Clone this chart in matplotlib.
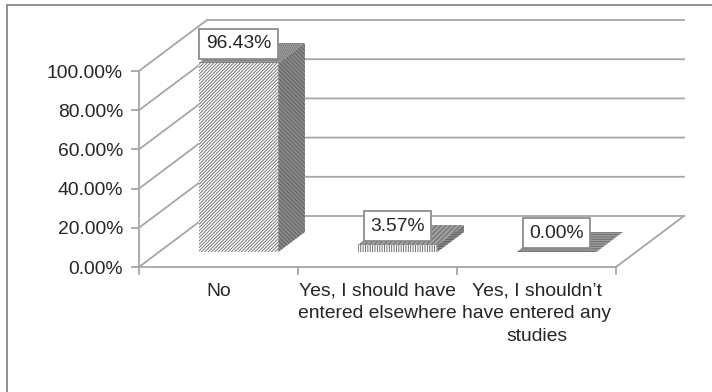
import matplotlib
matplotlib.use('Agg')
import matplotlib.pyplot as plt
from matplotlib.lines import Line2D
from matplotlib.patches import Polygon

categories = ["No", "Yes, I should have\nentered elsewhere", "Yes, I shouldn\u2019t\nhave entered any\nstudies"]
values = [96.43, 3.57, 0.00]
labels = ["96.43%", "3.57%", "0.00%"]
ytick_values = [0, 20, 40, 60, 80, 100]
ytick_labels = ["0.00%", "20.00%", "40.00%", "60.00%", "80.00%", "100.00%"]

W, H = 712, 392
plt.rcParams['font.family'] = ['Liberation Sans', 'DejaVu Sans']
plt.rcParams['hatch.linewidth'] = 0.7
GRID = '#a6a6a6'
TXT = '#262626'
FS = 13.9

fig = plt.figure(figsize=(W / 100, H / 100), dpi=100, facecolor='white')
# only the top and left edges of the chart frame are visible
fig.add_artist(Line2D([6.5 / W, 6.5 / W, 1], [0, 1 - 4.5 / H, 1 - 4.5 / H], transform=fig.transFigure,
                      color='#8f8f8f', lw=1.4, solid_joinstyle='miter'))

# front plane of the 3-D box
L, R, B, T = 139, 616, 267, 71
ax = fig.add_axes([L / W, 1 - B / H, (R - L) / W, (B - T) / H])
ax.set_xlim(0, 3)
ax.set_ylim(0, 100)
ax.patch.set_alpha(0)
for s in ('top', 'right'):
    ax.spines[s].set_visible(False)
for s in ('left', 'bottom'):
    ax.spines[s].set_color(GRID)
    ax.spines[s].set_linewidth(1.3)

DX = 68 / ((R - L) / 3)      # depth shift, x units
DY = 51 / ((B - T) / 100)    # depth shift, y units


def P(x, y, d):
    return (x + d * DX, y + d * DY)


ax.set_xticks(range(4))
ax.set_xticklabels([])
ax.set_yticks(ytick_values)
ax.set_yticklabels(ytick_labels, fontsize=FS, color=TXT)
ax.tick_params(axis='both', color=GRID, width=1.3, length=6)
ax.tick_params(axis='y', pad=5.5)

for i, c in enumerate(categories):
    ax.annotate(c, (i + 0.5, 0), xytext=(0, -16), textcoords='offset pixels',
                ha='center', va='top', fontsize=FS, color=TXT, linespacing=1.42,
                annotation_clip=False)

# walls and floor
for v in ytick_values:
    a, b, c = P(0, v, 0), P(0, v, 1), P(3, v, 1)
    ax.plot([a[0], b[0], c[0]], [a[1], b[1], c[1]], color=GRID, lw=1.3, clip_on=False, zorder=1,
            solid_joinstyle='miter')
a, b = P(3, 0, 0), P(3, 0, 1)
ax.plot([a[0], b[0]], [a[1], b[1]], color=GRID, lw=1.3, clip_on=False, zorder=1)

d0, d1 = 15 / 51, 35 / 51
hatches = [('//////////', '\\\\\\\\\\\\\\\\', '........'),
           ('|||||||', '-------', '///////'),
           ('-------', '-------', '-------')]
front_col = ['#777777', '#6e6e6e', '#6e6e6e']
for i, v in enumerate(values):
    x0, x1 = i + 0.25, i + 0.75
    hf, hs, ht = hatches[i]
    side = [P(x1, 0, d0), P(x1, 0, d1), P(x1, v, d1), P(x1, v, d0)]
    top = [P(x0, v, d0), P(x1, v, d0), P(x1, v, d1), P(x0, v, d1)]
    front = [P(x0, 0, d0), P(x1, 0, d0), P(x1, v, d0), P(x0, v, d0)]
    ax.add_patch(Polygon(side, closed=True, facecolor='#8a8a8a', edgecolor='#5f5f5f', hatch=hs, lw=0,
                         clip_on=False, zorder=2))
    ax.add_patch(Polygon(top, closed=True, facecolor='#a0a0a0', edgecolor='#6a6a6a', hatch=ht, lw=0,
                         clip_on=False, zorder=2))
    ax.add_patch(Polygon(front, closed=True, facecolor='white', edgecolor=front_col[i], hatch=hf, lw=0,
                         clip_on=False, zorder=3))
    ax.annotate(labels[i], P(i + 0.5, v, d0), xytext=(0, 19), textcoords='offset pixels',
                ha='center', va='center', fontsize=FS, color=TXT, zorder=5, annotation_clip=False,
                bbox=dict(boxstyle='square,pad=0.34', facecolor='white', edgecolor='#8c8c8c', lw=1.3))

fig.savefig('out.png', dpi=100, facecolor='white')
